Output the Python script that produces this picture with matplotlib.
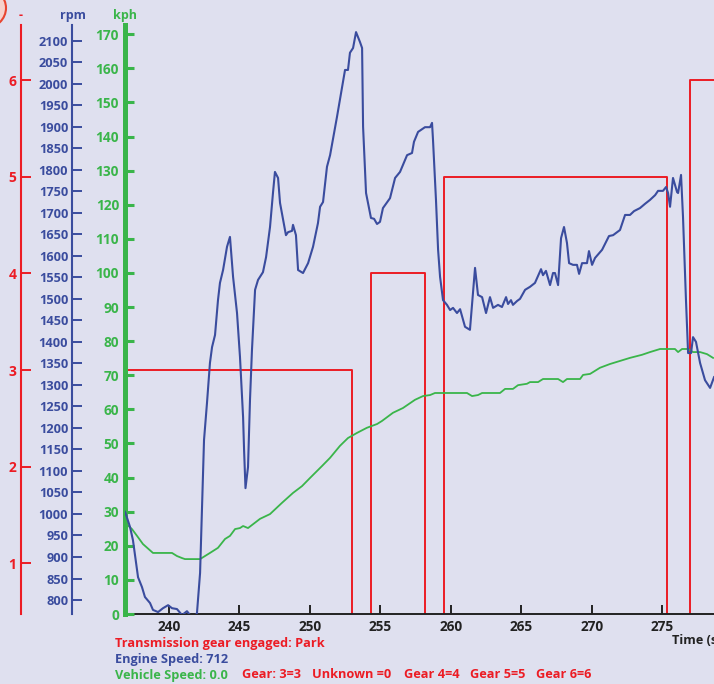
import matplotlib
matplotlib.use("Agg")
import matplotlib.pyplot as plt
from matplotlib.patches import Circle

plt.rcParams['font.family'] = ['Open Sans', 'DejaVu Sans']

# engine speed (rpm)
rpm_t = [236.89, 237.24, 237.45, 237.81, 238.09, 238.30, 238.66, 238.87, 239.23, 239.58,
         239.94, 240.22, 240.57, 240.93, 241.28, 241.50, 241.85, 241.99, 242.21, 242.49,
         242.70, 242.91, 243.06, 243.27, 243.48, 243.62, 243.84, 244.12, 244.33, 244.55,
         244.83, 245.04, 245.26, 245.33, 245.43, 245.61, 245.75, 245.89, 246.11, 246.32,
         246.67, 246.89, 247.17, 247.38, 247.52, 247.74, 247.88, 248.30, 248.45, 248.73,
         248.80, 249.01, 249.16, 249.51, 249.87, 250.22, 250.57, 250.72, 250.93, 251.21,
         251.43, 251.92, 252.49, 252.70, 252.84, 253.06, 253.27, 253.55, 253.70, 253.77,
         253.98, 254.33, 254.55, 254.76, 254.97, 255.18, 255.68, 256.04, 256.39, 256.89,
         257.24, 257.38, 257.67, 258.16, 258.52, 258.66, 258.73, 258.94, 259.09, 259.23,
         259.44, 259.72, 259.94, 260.15, 260.43, 260.65, 261.00, 261.35, 261.71, 261.92,
         262.21, 262.49, 262.77, 262.99, 263.34, 263.62, 263.91, 264.05, 264.26, 264.40,
         264.69, 264.90, 265.26, 265.61, 265.96, 266.39, 266.53, 266.74, 267.03, 267.24,
         267.38, 267.60, 267.81, 268.02, 268.23, 268.38, 268.66, 268.94, 269.09, 269.30,
         269.65, 269.79, 270.01, 270.22, 270.72, 271.21, 271.50, 271.99, 272.35, 272.70,
         272.99, 273.41, 273.77, 274.12, 274.48, 274.69, 275.04, 275.26, 275.40, 275.54,
         275.75, 276.04, 276.11, 276.32, 276.46, 276.67, 276.82, 277.03, 277.17, 277.38,
         277.67, 278.02, 278.38, 278.66]
rpm = [1005, 970, 939, 853, 830, 807, 793, 777, 772, 781,
       788, 781, 779, 765, 774, 765, 760, 770, 863, 1172,
       1258, 1351, 1388, 1416, 1497, 1537, 1567, 1621, 1644, 1551,
       1467, 1365, 1225, 1149, 1060, 1109, 1265, 1381, 1521, 1544,
       1562, 1597, 1667, 1746, 1795, 1781, 1723, 1648, 1655, 1658,
       1672, 1648, 1567, 1560, 1583, 1621, 1676, 1714, 1725, 1807,
       1834, 1923, 2032, 2032, 2072, 2083, 2120, 2097, 2083, 1900,
       1746, 1688, 1686, 1674, 1679, 1711, 1734, 1781, 1795, 1834,
       1839, 1865, 1888, 1899, 1899, 1909, 1869, 1730, 1614, 1551,
       1497, 1486, 1474, 1479, 1467, 1476, 1435, 1428, 1572, 1509,
       1504, 1467, 1504, 1479, 1486, 1481, 1504, 1488, 1497, 1486,
       1495, 1500, 1521, 1528, 1537, 1569, 1555, 1565, 1532, 1560,
       1560, 1532, 1641, 1667, 1630, 1583, 1579, 1579, 1558, 1583,
       1583, 1611, 1579, 1595, 1614, 1646, 1648, 1660, 1695, 1695,
       1704, 1711, 1721, 1730, 1741, 1751, 1751, 1760, 1746, 1714,
       1781, 1748, 1746, 1788, 1690, 1497, 1374, 1374, 1411, 1400,
       1351, 1311, 1293, 1318]

# vehicle speed (kph)
kph_t = [236.89, 237.38, 237.74, 238.16, 238.87, 240.22, 240.57, 240.93, 241.14, 242.21,
         242.56, 242.91, 243.48, 243.98, 244.33, 244.69, 245.04, 245.26, 245.61, 246.46,
         247.17, 248.02, 248.80, 249.44, 250.01, 250.86, 251.43, 252.13, 252.70, 253.34,
         254.04, 254.76, 255.11, 255.89, 256.60, 257.45, 258.02, 258.52, 258.87, 261.14,
         261.50, 261.92, 262.21, 263.48, 263.84, 264.40, 264.76, 265.39, 265.61, 266.18,
         266.53, 267.60, 267.95, 268.23, 269.16, 269.37, 269.87, 270.57, 271.28, 271.99,
         272.70, 273.55, 274.12, 274.83, 275.89, 276.11, 276.39, 276.82, 277.17, 277.67,
         278.16, 278.59]
kph = [26.7, 24.9, 22.9, 20.5, 17.9, 17.9, 17.0, 16.4, 16.1, 16.1,
       17.0, 17.9, 19.4, 22.0, 22.9, 24.9, 25.2, 25.8, 25.2, 27.9,
       29.3, 32.6, 35.5, 37.5, 39.9, 43.4, 45.8, 49.3, 51.6, 53.1,
       54.6, 55.7, 56.6, 59.0, 60.4, 62.8, 63.9, 64.2, 64.8, 64.8,
       63.9, 64.2, 64.8, 64.8, 66.0, 66.0, 67.1, 67.5, 68.0, 68.0,
       68.9, 68.9, 68.0, 68.9, 68.9, 70.1, 70.4, 72.2, 73.3, 74.2,
       75.1, 76.0, 76.8, 77.7, 77.7, 76.8, 77.7, 77.7, 76.8, 76.8,
       76.2, 75.1]

# transmission gear (step)
gear_t = [236.85, 252.97, 254.30, 258.16, 259.50, 275.30, 276.96, 282.0]
gear = [3, 0, 4, 0, 5, 0, 6, 6]

rpm_ticks = list(range(800, 2101, 50))
kph_ticks = list(range(0, 171, 10))
gear_ticks = [1, 2, 3, 4, 5, 6]
time_ticks = [240, 245, 250, 255, 260, 265, 270, 275]

gear_legend = ['Gear: 3=3', 'Unknown =0', 'Gear 4=4', 'Gear 5=5', 'Gear 6=6']

bg = '#dfe0ef'
red = '#ec1c24'
blue = '#3a4c9e'
green = '#3ab54a'

W, H = 714, 684
fig = plt.figure(figsize=(W / 100, H / 100), dpi=100)
fig.patch.set_facecolor(bg)

left, right, top, bottom = 124.5, 760, 25, 614
ax = fig.add_axes([left / W, 1 - bottom / H, (right - left) / W, (bottom - top) / H])
ax.set_facecolor(bg)
ax_kph = ax.twinx()
ax_rpm = ax.twinx()

ax.plot(gear_t, gear, color=red, lw=1.4, drawstyle='steps-post')
ax_kph.plot(kph_t, kph, color=green, lw=1.3)
ax_rpm.plot(rpm_t, rpm, color=blue, lw=1.5)

ax.set_xlim(236.85, 281.92)
ax.set_ylim(0.476, 6.569)
ax_kph.set_ylim(0, 172.7)
ax_rpm.set_ylim(767.5, 2136.5)

for a in (ax, ax_kph, ax_rpm):
    for s in ('top', 'right'):
        a.spines[s].set_visible(False)
    a.yaxis.set_ticks_position('left')
    a.yaxis.set_label_position('left')
    a.spines['left'].set_visible(True)
for a in (ax_kph, ax_rpm):
    a.spines['bottom'].set_visible(False)

# red gear axis, furthest left
ax.spines['left'].set_position(('outward', 103.8 * 0.72))
ax.spines['left'].set_color(red)
ax.spines['left'].set_linewidth(1.5)
ax.set_yticks(gear_ticks)
ax.tick_params(axis='y', direction='in', length=7.2, width=1.4, color=red,
               labelcolor=red, labelsize=10, pad=3)

# rpm axis
ax_rpm.spines['left'].set_position(('outward', 52.8 * 0.72))
ax_rpm.spines['left'].set_color(blue)
ax_rpm.spines['left'].set_linewidth(1.5)
ax_rpm.set_yticks(rpm_ticks)
ax_rpm.tick_params(axis='y', direction='in', length=7.2, width=1.4, color=blue,
                   labelcolor=blue, labelsize=9.2, pad=2.5)

# kph axis on the plot edge
ax_kph.spines['left'].set_color(green)
ax_kph.spines['left'].set_linewidth(3.6)
ax_kph.set_yticks(kph_ticks)
ax_kph.tick_params(axis='y', direction='in', length=6.5, width=2.2, color=green,
                   labelcolor=green, labelsize=9.8, pad=4)

ax.spines['bottom'].set_color('#222222')
ax.spines['bottom'].set_linewidth(1.4)
ax.set_xticks(time_ticks)
ax.tick_params(axis='x', direction='in', length=6.5, width=1.4, color='#222222',
               labelcolor='#222222', labelsize=9.8, pad=4)

for a in (ax, ax_kph, ax_rpm):
    for lab in a.get_xticklabels() + a.get_yticklabels():
        lab.set_fontweight('bold')


def px(x, y):
    return x / W, 1 - y / H


fs = 9.2
fig.text(*px(21, 16), '-', color=red, ha='center', va='center', fontsize=9, fontweight='bold')
fig.text(*px(73, 16), 'rpm', color=blue, ha='center', va='center', fontsize=9, fontweight='bold')
fig.text(*px(125, 16), 'kph', color=green, ha='center', va='center', fontsize=9, fontweight='bold')

fig.text(*px(672, 640), 'Time (s)', color='#222222', ha='left', va='center', fontsize=fs,
         fontweight='bold')

fig.text(*px(115, 643), 'Transmission gear engaged: Park', color=red, ha='left', va='center',
         fontsize=fs, fontweight='bold')
fig.text(*px(115, 659), 'Engine Speed: 712', color=blue, ha='left', va='center',
         fontsize=fs, fontweight='bold')
fig.text(*px(115, 675), 'Vehicle Speed: 0.0', color=green, ha='left', va='center',
         fontsize=fs, fontweight='bold')
for xpos, label in zip([242, 312, 403.5, 470, 536.5], gear_legend):
    fig.text(*px(xpos, 675), label, color=red, ha='left', va='center', fontsize=fs,
             fontweight='bold')

# corner of a logo at the top left
fig.patches.append(Circle(px(-15, 8), 21 / W, transform=fig.transFigure, facecolor='#f6d2cc',
                          edgecolor='#e8452f', lw=1.5))

fig.savefig('out.png', dpi=100, facecolor=bg)
